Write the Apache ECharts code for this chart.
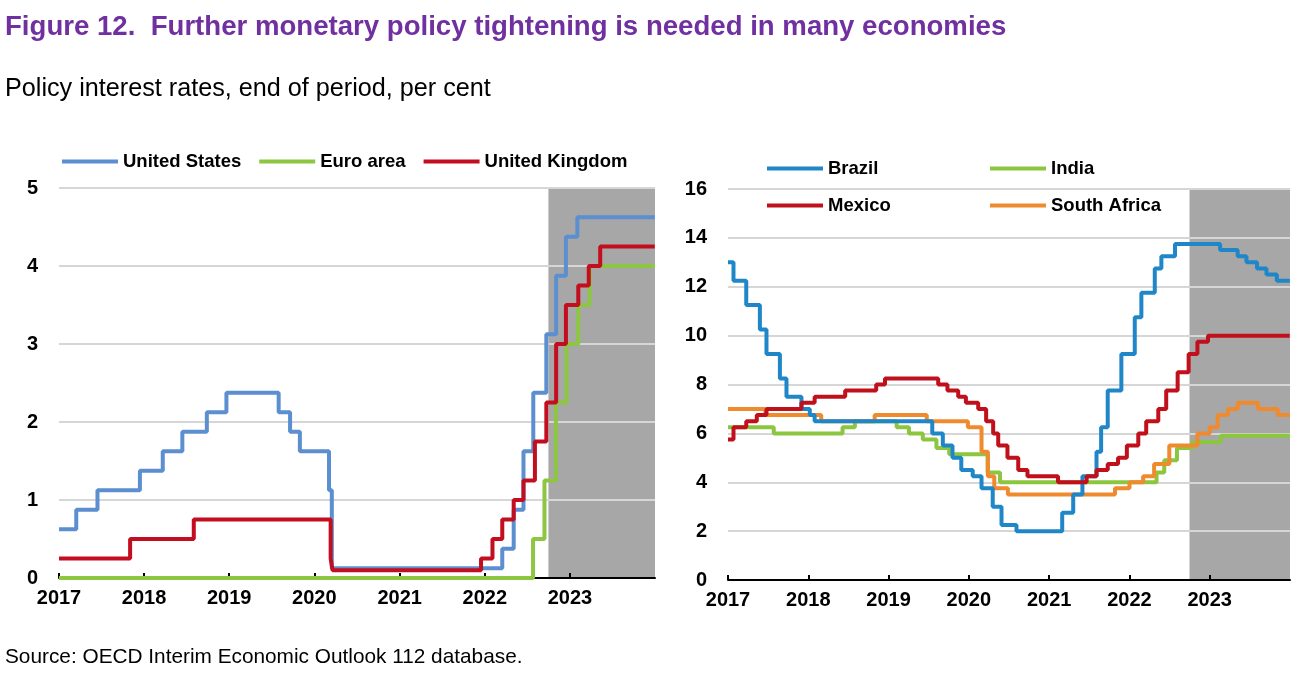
<!DOCTYPE html>
<html><head><meta charset="utf-8">
<script src="https://cdn.jsdelivr.net/npm/echarts@6/dist/echarts.min.js"></script>
<style>html,body{margin:0;padding:0;background:#fff}#c{width:1298px;height:674px}</style>
</head><body><div id="c"></div>
<script>
// ---- data: policy rates, change points [date, rate] ----
const titleText = 'Figure 12.  Further monetary policy tightening is needed in many economies';
const subtitleText = 'Policy interest rates, end of period, per cent';
const sourceText = 'Source: OECD Interim Economic Outlook 112 database.';
const leftNames = ['United States', 'Euro area', 'United Kingdom'];
const rightNames = ['Brazil', 'India', 'Mexico', 'South Africa'];
const projectionStart = '2022-10-01';
const axisStart = '2017-01-01';
const axisEnd = '2024-01-01';

const unitedStates = [['2017-01-01',0.625],['2017-03-16',0.875],['2017-06-15',1.125],['2017-12-14',1.375],['2018-03-22',1.625],['2018-06-14',1.875],['2018-09-27',2.125],['2018-12-20',2.375],['2019-08-01',2.125],['2019-09-19',1.875],['2019-10-31',1.625],['2020-03-04',1.125],['2020-03-16',0.125],['2022-03-17',0.375],['2022-05-05',0.875],['2022-06-16',1.625],['2022-07-28',2.375],['2022-09-22',3.125],['2022-11-03',3.875],['2022-12-15',4.375],['2023-02-02',4.625],['2023-12-31',4.625]];
const euroArea = [['2017-01-01',0],['2022-07-27',0.5],['2022-09-14',1.25],['2022-11-02',2.25],['2022-12-18',3.0],['2023-02-06',3.5],['2023-03-27',4.0],['2023-12-31',4.0]];
const unitedKingdom = [['2017-01-01',0.25],['2017-11-02',0.5],['2018-08-02',0.75],['2020-03-11',0.25],['2020-03-19',0.1],['2021-12-16',0.25],['2022-02-03',0.5],['2022-03-17',0.75],['2022-05-05',1.0],['2022-06-16',1.25],['2022-08-04',1.75],['2022-09-22',2.25],['2022-11-03',3.0],['2022-12-15',3.5],['2023-02-06',3.75],['2023-03-23',4.0],['2023-05-11',4.25],['2023-12-31',4.25]];

const brazil = [['2017-01-01',13.0],['2017-01-26',12.25],['2017-03-25',11.25],['2017-05-26',10.25],['2017-06-25',9.25],['2017-08-25',8.25],['2017-09-24',7.5],['2017-12-01',7.0],['2018-01-08',6.75],['2018-01-30',6.5],['2019-07-19',6.0],['2019-09-05',5.5],['2019-10-19',5.0],['2019-11-28',4.5],['2020-01-19',4.25],['2020-02-28',3.75],['2020-04-19',3.0],['2020-05-29',2.25],['2020-08-05',2.0],['2021-03-01',2.75],['2021-04-20',3.5],['2021-06-01',4.25],['2021-08-04',5.25],['2021-08-25',6.25],['2021-09-24',7.75],['2021-11-25',9.25],['2022-01-25',10.75],['2022-02-24',11.75],['2022-04-26',12.75],['2022-05-26',13.25],['2022-07-27',13.75],['2023-02-17',13.5],['2023-05-08',13.25],['2023-06-17',13.0],['2023-08-04',12.75],['2023-09-16',12.5],['2023-11-02',12.25],['2023-12-31',12.25]];
const india = [['2017-01-01',6.25],['2017-07-28',6.0],['2018-06-06',6.25],['2018-08-01',6.5],['2019-02-07',6.25],['2019-04-04',6.0],['2019-06-06',5.75],['2019-08-07',5.4],['2019-10-04',5.15],['2020-03-27',4.4],['2020-05-22',4.0],['2022-05-04',4.4],['2022-06-08',4.9],['2022-08-05',5.4],['2022-10-15',5.65],['2023-02-20',5.9],['2023-12-31',5.9]];
const mexico = [['2017-01-01',5.75],['2017-01-26',6.25],['2017-03-25',6.5],['2017-05-12',6.75],['2017-06-25',7.0],['2017-12-01',7.25],['2018-01-30',7.5],['2018-06-18',7.75],['2018-11-06',8.0],['2018-12-16',8.25],['2019-08-15',8.0],['2019-09-26',7.75],['2019-11-14',7.5],['2019-12-19',7.25],['2020-02-13',7.0],['2020-03-20',6.5],['2020-04-21',6.0],['2020-05-14',5.5],['2020-06-25',5.0],['2020-08-13',4.5],['2020-09-24',4.25],['2021-02-10',4.0],['2021-06-20',4.25],['2021-08-04',4.5],['2021-09-24',4.75],['2021-11-10',5.0],['2021-12-20',5.5],['2022-02-10',6.0],['2022-03-18',6.5],['2022-05-12',7.0],['2022-06-17',7.75],['2022-08-08',8.5],['2022-09-27',9.25],['2022-11-06',9.75],['2022-12-24',10.0],['2023-12-31',10.0]];
const southAfrica = [['2017-01-01',7.0],['2017-06-20',6.75],['2018-03-01',6.5],['2018-10-30',6.75],['2019-06-24',6.5],['2019-12-28',6.25],['2020-02-28',5.25],['2020-03-28',4.25],['2020-04-26',3.75],['2020-06-27',3.5],['2021-10-27',3.75],['2022-01-01',4.0],['2022-03-04',4.25],['2022-04-23',4.75],['2022-07-01',5.5],['2022-11-06',6.0],['2023-01-01',6.25],['2023-02-06',6.75],['2023-03-25',7.0],['2023-05-08',7.25],['2023-08-08',7.0],['2023-11-06',6.75],['2023-12-31',6.75]];

const leftY = {min: 0, max: 5, interval: 1};
const rightY = {min: 0, max: 16, interval: 2};

// ---- styling ----
const FONT = "'Liberation Sans', Arial, sans-serif";
const colors = {
  'United States': '#5b8fd0', 'Euro area': '#8dc641', 'United Kingdom': '#c20e1f',
  'Brazil': '#1f86c8', 'India': '#8cc63f', 'Mexico': '#c0101c', 'South Africa': '#f08a2e'
};
const YEAR = 365 * 24 * 3600 * 1000;

function xAxisFor(gi) {
  return {
    type: 'time', gridIndex: gi, min: axisStart, max: axisEnd, z: 0,
    minInterval: YEAR, maxInterval: YEAR * 1.01,
    axisLine: {show: true, lineStyle: {color: '#000', width: 2}},
    axisTick: {show: true, inside: true, length: 5, lineStyle: {color: '#000', width: 2}},
    splitLine: {show: false},
    axisLabel: {show: true, showMaxLabel: false, color: '#000', fontFamily: FONT, fontWeight: 'bold', fontSize: 20, margin: 10,
      formatter: v => String(new Date(v).getFullYear())}
  };
}
function yAxisFor(gi, cfg) {
  return {
    type: 'value', gridIndex: gi, min: cfg.min, max: cfg.max, interval: cfg.interval, z: 0,
    axisLine: {show: false}, axisTick: {show: false},
    splitLine: {show: true, lineStyle: {color: '#d6d6d6', width: 2}},
    axisLabel: {color: '#000', fontFamily: FONT, fontWeight: 'bold', fontSize: 20, margin: 21}
  };
}
function lineSeries(name, data, gi) {
  return {
    name, type: 'line', step: 'end', xAxisIndex: gi, yAxisIndex: gi, data,
    showSymbol: false, symbol: 'none', animation: false,
    lineStyle: {color: colors[name], width: 4}, itemStyle: {color: colors[name]}, z: 3
  };
}
function shadeSeries(gi) {
  return {
    type: 'line', xAxisIndex: gi, yAxisIndex: gi, data: [], z: -5, zlevel: 0, silent: true, animation: false,
    markArea: {silent: true, z: -5, itemStyle: {color: '#a7a7a7'}, data: [[{xAxis: projectionStart}, {xAxis: axisEnd}]]}
  };
}
const legendText = {color: '#000', fontFamily: FONT, fontWeight: 'bold', fontSize: 18.5};
function legendAt(names, left, top, gap) {
  return {data: names, left, top, orient: 'horizontal', itemGap: gap, itemWidth: 56, itemHeight: 4,
    icon: 'rect', textStyle: legendText, selectedMode: false, padding: 0};
}

const chart = echarts.init(document.getElementById('c'), null, {renderer: 'canvas'});
chart.setOption({
  animation: false,
  backgroundColor: '#fff',
  title: [
    {text: titleText, left: 5, top: 13, padding: 0, textStyle: {color: '#7030a0', fontFamily: FONT, fontWeight: 'bold', fontSize: 27.6}},
    {text: subtitleText, left: 5, top: 77, padding: 0, textStyle: {color: '#000', fontFamily: FONT, fontWeight: 'normal', fontSize: 25.2}},
    {text: sourceText, left: 5, top: 647, padding: 0, textStyle: {color: '#000', fontFamily: FONT, fontWeight: 'normal', fontSize: 20.8}}
  ],
  legend: [
    legendAt(leftNames, 62, 152, 18),
    legendAt(['Brazil'], 767, 159, 0),
    legendAt(['India'], 990, 159, 0),
    legendAt(['Mexico'], 767, 196, 0),
    legendAt(['South Africa'], 990, 196, 0)
  ],
  grid: [
    {left: 59, right: 643, top: 188, bottom: 96},
    {left: 728, right: 8, top: 189, bottom: 94}
  ],
  xAxis: [xAxisFor(0), xAxisFor(1)],
  yAxis: [yAxisFor(0, leftY), yAxisFor(1, rightY)],
  series: [
    shadeSeries(0), shadeSeries(1),
    lineSeries('United States', unitedStates, 0),
    lineSeries('Euro area', euroArea, 0),
    lineSeries('United Kingdom', unitedKingdom, 0),
    lineSeries('India', india, 1),
    lineSeries('South Africa', southAfrica, 1),
    lineSeries('Brazil', brazil, 1),
    lineSeries('Mexico', mexico, 1)
  ]
});
</script></body></html>
